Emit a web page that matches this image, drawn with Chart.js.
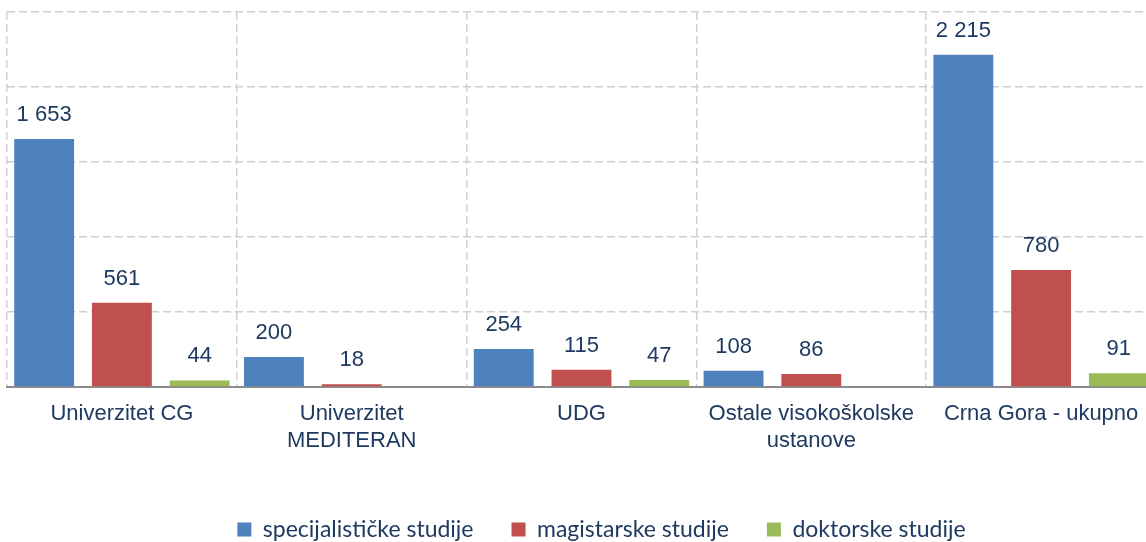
<!DOCTYPE html>
<html>
<head>
<meta charset="utf-8">
<script src="https://cdn.jsdelivr.net/npm/chart.js@4/dist/chart.umd.min.js"></script>
<style>
  html, body { margin: 0; padding: 0; width: 1146px; height: 542px; overflow: hidden; background: #fff; }
  #wrap { position: absolute; left: 0; top: 0; }
</style>
</head>
<body>
<div id="wrap"><canvas id="chart" width="1196" height="551"></canvas></div>
<script>
// Grouped bars: students by study level per institution.
const categories = [
  ['Univerzitet CG'],
  ['Univerzitet', 'MEDITERAN'],
  ['UDG'],
  ['Ostale visokoškolske', 'ustanove'],
  ['Crna Gora - ukupno'],
];
const specijalisticke = [1653, 200, 254, 108, 2215];
const magistarske = [561, 18, 115, 86, 780];
const doktorske = [44, null, 47, null, 91];
const seriesNames = ['specijalističke studije', 'magistarske studije', 'doktorske studije'];
const yTicks = [0, 500, 1000, 1500, 2000, 2500];

const NAVY = '#1f3a60';
const ARIAL = '"Liberation Sans", Arial, sans-serif';

const formatValue = (v) => String(v).replace(/\B(?=(\d{3})+(?!\d))/g, ' ');

// Value above each bar, Excel-style.
const valueLabels = {
  id: 'valueLabels',
  afterDatasetsDraw(chart) {
    const { ctx } = chart;
    ctx.save();
    ctx.font = `22px ${ARIAL}`;
    ctx.fillStyle = NAVY;
    ctx.textAlign = 'center';
    ctx.textBaseline = 'middle';
    chart.data.datasets.forEach((ds, i) => {
      chart.getDatasetMeta(i).data.forEach((bar, j) => {
        const v = ds.data[j];
        if (v == null) return;
        ctx.fillText(formatValue(v), bar.x, bar.y - 24);
      });
    });
    ctx.restore();
  },
};

const mkSet = (label, data, color) => ({
  label,
  data,
  backgroundColor: color,
  borderWidth: 0,
  categoryPercentage: 1.015,
  barPercentage: 0.77,
});

new Chart(document.getElementById('chart').getContext('2d'), {
  type: 'bar',
  data: {
    labels: categories,
    datasets: [
      mkSet(seriesNames[0], specijalisticke, '#4f81bd'),
      mkSet(seriesNames[1], magistarske, '#c0504d'),
      mkSet(seriesNames[2], doktorske, '#9bbb59'),
    ],
  },
  options: {
    responsive: false,
    animation: false,
    layout: { padding: { left: 7, top: 12, right: 0, bottom: 0 } },
    scales: {
      x: {
        grid: { color: '#d0d0d0', lineWidth: 1.5, drawTicks: false },
        border: { display: true, color: '#8c8c8c', width: 2, dash: [8, 4] },
        ticks: { color: NAVY, font: { family: ARIAL, size: 22 }, padding: 14, maxRotation: 0, autoSkip: false },
        afterFit: (scale) => { scale.height = 93; },
      },
      y: {
        position: 'right',
        min: yTicks[0],
        max: yTicks[yTicks.length - 1],
        afterBuildTicks: (scale) => { scale.ticks = yTicks.map((value) => ({ value })); },
        ticks: { display: false },
        grid: { color: '#d0d0d0', lineWidth: 1.5, drawTicks: false },
        border: { display: false, dash: [8, 4] },
        afterFit: (scale) => { scale.width = 40; },
      },
    },
    plugins: {
      legend: {
        position: 'bottom',
        labels: {
          color: NAVY,
          font: { family: 'Lato, "Open Sans", sans-serif', size: 23 },
          boxWidth: 14,
          boxHeight: 14,
          padding: 38,
        },
      },
      tooltip: { enabled: false },
    },
  },
  plugins: [valueLabels],
});
</script>
</body>
</html>
